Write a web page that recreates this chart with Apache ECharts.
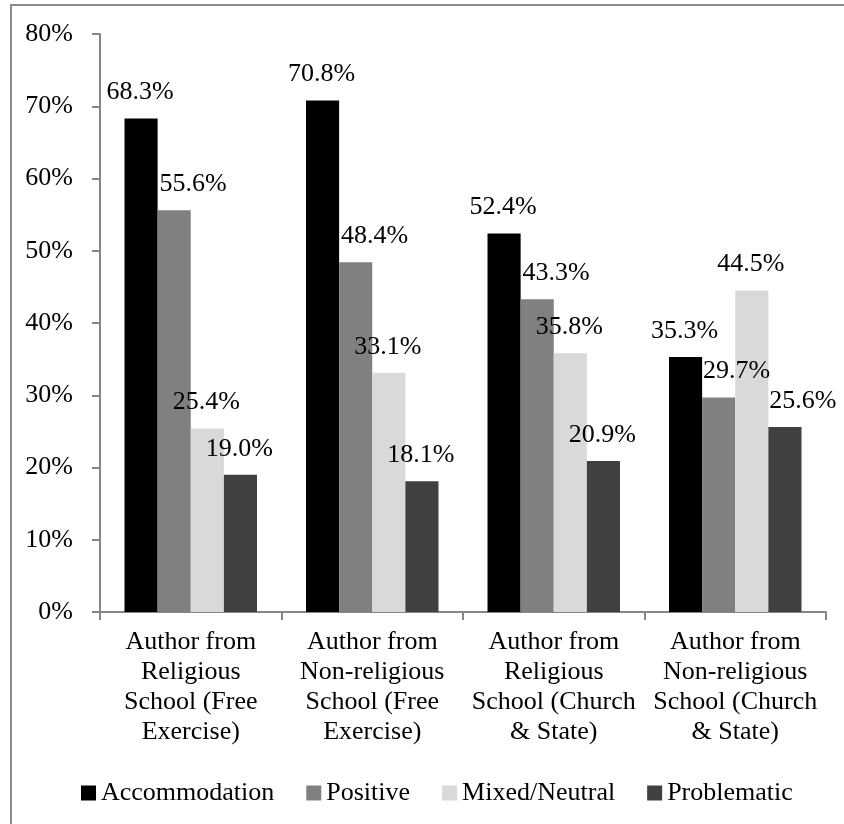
<!DOCTYPE html>
<html>
<head>
<meta charset="utf-8">
<script src="https://cdn.jsdelivr.net/npm/echarts@6/dist/echarts.min.js"></script>
<style>
  html, body { margin: 0; padding: 0; background: #fff; }
  #chart { width: 844px; height: 824px; }
</style>
</head>
<body>
<div id="chart"></div>
<script>
// Share of opinions by author background and clause (percent)
const categories = [
  'Author from\nReligious\nSchool (Free\nExercise)',
  'Author from\nNon-religious\nSchool (Free\nExercise)',
  'Author from\nReligious\nSchool (Church\n& State)',
  'Author from\nNon-religious\nSchool (Church\n& State)'
];
const seriesNames = ['Accommodation', 'Positive', 'Mixed/Neutral', 'Problematic'];
const accommodation = [68.3, 70.8, 52.4, 35.3];
const positive      = [55.6, 48.4, 43.3, 29.7];
const mixedNeutral  = [25.4, 33.1, 35.8, 44.5];
const problematic   = [19.0, 18.1, 20.9, 25.6];
const yTicks = [0, 10, 20, 30, 40, 50, 60, 70, 80];

const colors = ['#000000', '#808080', '#d9d9d9', '#404040'];
const FONT = '"Liberation Serif", "Times New Roman", serif';
const FS = 26;

// labels nudged sideways so they do not collide with neighbouring bars
const labelNudge = {
  'Positive': { 0: 19, 1: 19, 2: 19, 3: 18 },
  'Problematic': { 3: 18 }
};

function buildData(name, values) {
  const nudge = labelNudge[name] || {};
  return values.map((v, i) => {
    const item = { value: v };
    item.label = { offset: [nudge[i] !== undefined ? nudge[i] : -1, 0] };
    return item;
  });
}

const valueSets = [accommodation, positive, mixedNeutral, problematic];

const chart = echarts.init(document.getElementById('chart'), null, { renderer: 'canvas' });
chart.setOption({
  animation: false,
  backgroundColor: '#ffffff',
  textStyle: { fontFamily: FONT },
  graphic: [{
    type: 'rect',
    shape: { x: 11, y: 5, width: 900, height: 900 },
    style: { fill: 'none', stroke: '#8c8c8c', lineWidth: 2 },
    silent: true,
    z: -10
  }],
  grid: { left: 100, right: 18, top: 34, bottom: 212, containLabel: false },
  legend: {
    left: 76,
    top: 775,
    icon: 'rect',
    itemWidth: 15,
    itemHeight: 15,
    itemGap: 32,
    data: seriesNames,
    textStyle: { fontFamily: FONT, fontSize: FS, color: '#000' }
  },
  xAxis: {
    type: 'category',
    data: categories,
    boundaryGap: true,
    axisLine: { show: true, lineStyle: { color: '#868686', width: 2 } },
    axisTick: { show: true, length: 8, alignWithLabel: false, lineStyle: { color: '#868686', width: 2 } },
    axisLabel: {
      interval: 0,
      margin: 15,
      fontFamily: FONT,
      fontSize: FS,
      lineHeight: 30,
      color: '#000',
      align: 'center'
    },
    splitLine: { show: false }
  },
  yAxis: {
    type: 'value',
    min: yTicks[0],
    max: yTicks[yTicks.length - 1],
    interval: 10,
    axisLine: { show: true, lineStyle: { color: '#868686', width: 2 } },
    axisTick: { show: true, length: 8, inside: false, lineStyle: { color: '#868686', width: 2 } },
    axisLabel: {
      margin: 27,
      fontFamily: FONT,
      fontSize: FS,
      color: '#000',
      formatter: '{value}%'
    },
    splitLine: { show: false }
  },
  series: seriesNames.map((name, k) => ({
    name: name,
    type: 'bar',
    data: buildData(name, valueSets[k]),
    barGap: '0%',
    barCategoryGap: '27%',
    itemStyle: { color: colors[k] },
    label: {
      show: true,
      position: 'top',
      distance: 13,
      fontFamily: FONT,
      fontSize: FS,
      lineHeight: 26,
      color: '#000',
      formatter: p => p.value.toFixed(1) + '%'
    }
  }))
});
</script>
</body>
</html>
